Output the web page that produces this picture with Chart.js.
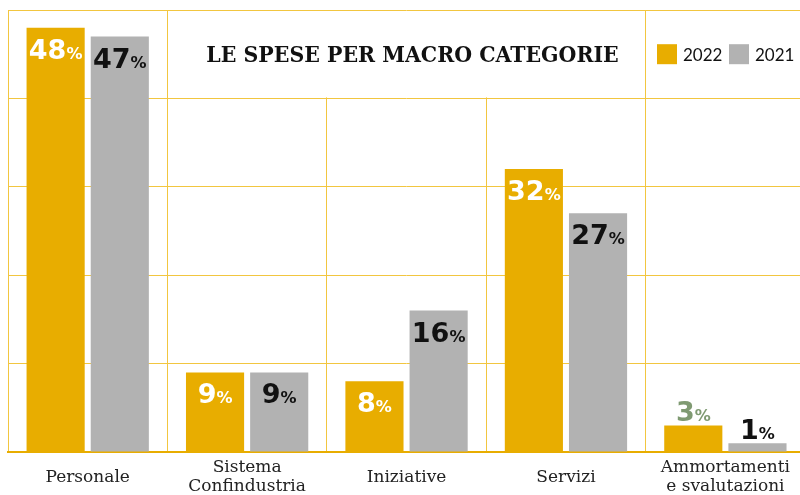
<!DOCTYPE html>
<html>
<head>
<meta charset="utf-8">
<script src="https://cdn.jsdelivr.net/npm/chart.js@4/dist/chart.umd.min.js"></script>
<style>
  html, body { margin: 0; padding: 0; background: #fff; overflow: hidden; }
  #wrap { width: 806px; height: 495px; position: relative; }
</style>
</head>
<body>
<div id="wrap"><canvas id="speseChart" width="806" height="495"></canvas></div>
<script>
const categories = [['Personale'], ['Sistema', 'Confindustria'], ['Iniziative'], ['Servizi'], ['Ammortamenti', 'e svalutazioni']];
const values2022 = [48, 9, 8, 32, 3];
const values2021 = [47, 9, 16, 27, 1];
const yTicks = [0, 10, 20, 30, 40, 50];
const titleText = 'LE SPESE PER MACRO CATEGORIE';

const GOLD = '#E8AD00';
const GREY = '#B2B2B2';
const GRID = '#F2C640';

// title box, legend and % labels drawn on top of the grid
const overlay = {
  id: 'overlay',
  beforeDatasetsDraw(chart) {
    const ctx = chart.ctx, x = chart.scales.x, y = chart.scales.y;
    const half = (x.getPixelForValue(1) - x.getPixelForValue(0)) / 2;
    const top = y.getPixelForValue(50), bot = y.getPixelForValue(40);
    const l = x.getPixelForValue(1) - half, r = x.getPixelForValue(3) + half;
    ctx.save();
    ctx.fillStyle = '#fff';
    ctx.fillRect(l + 1, top + 1, r - l - 2, bot - top - 2);
    ctx.fillStyle = '#111';
    ctx.textAlign = 'center';
    ctx.textBaseline = 'middle';
    let size = 23;
    ctx.font = 'bold ' + size + 'px "DejaVu Serif Condensed", "DejaVu Serif"';
    const w = ctx.measureText(titleText).width;
    size = size * 412 / w;
    ctx.font = 'bold ' + size.toFixed(1) + 'px "DejaVu Serif Condensed", "DejaVu Serif"';
    ctx.fillText(titleText, (l + r) / 2 + 6, (top + bot) / 2 + 2);

    // legend
    const ly = (top + bot) / 2;
    ctx.font = '17px Lato';
    ctx.textAlign = 'left';
    const items = [['2022', GOLD], ['2021', GREY]];
    let lx = 657;
    items.forEach(([t, c]) => {
      ctx.fillStyle = c;
      ctx.fillRect(lx, ly - 10, 20, 20);
      ctx.fillStyle = '#111';
      ctx.fillText(t, lx + 26, ly + 1);
      lx += 72;
    });
    ctx.restore();
  },
  afterDatasetsDraw(chart) {
    const ctx = chart.ctx;
    ctx.save();
    ctx.textBaseline = 'alphabetic';
    chart.data.datasets.forEach((ds, di) => {
      chart.getDatasetMeta(di).data.forEach((bar, i) => {
        const v = ds.data[i];
        const inside = v >= 5;
        const numFont = 'bold 27px "DejaVu Sans"';
        const pctFont = 'bold 16px "DejaVu Sans"';
        ctx.font = numFont;
        const nw = ctx.measureText(String(v)).width;
        ctx.font = pctFont;
        const pw = ctx.measureText('%').width;
        const start = bar.x - (nw + pw) / 2;
        const base = inside ? bar.y + 31 : bar.y - 4;
        let col;
        if (di === 0) col = inside ? '#fff' : '#7F9A72';
        else col = '#111';
        ctx.fillStyle = col;
        ctx.textAlign = 'left';
        ctx.font = numFont;
        ctx.fillText(String(v), start, base);
        ctx.font = pctFont;
        ctx.fillText('%', start + nw, base);
      });
    });
    ctx.restore();
  }
};

new Chart(document.getElementById('speseChart'), {
  type: 'bar',
  data: {
    labels: categories,
    datasets: [
      { label: '2022', data: values2022, backgroundColor: GOLD },
      { label: '2021', data: values2021, backgroundColor: GREY }
    ]
  },
  options: {
    responsive: false,
    animation: false,
    layout: { padding: { left: 8, top: 10, right: 0, bottom: 0 } },
    categoryPercentage: 0.805,
    barPercentage: 0.906,
    plugins: { legend: { display: false }, tooltip: { enabled: false } },
    scales: {
      x: {
        offset: true,
        grid: { offset: true, color: GRID, lineWidth: 1, drawTicks: false },
        border: { color: GOLD, width: 2 },
        ticks: {
          color: '#222',
          font: { family: 'DejaVu Serif', size: 17, lineHeight: 1.12 },
          padding: 16,
          crossAlign: 'center',
          maxRotation: 0,
          autoSkip: false
        },
        afterFit(scale) { scale.height = 43; }
      },
      y: {
        min: 0,
        max: 50,
        afterBuildTicks(scale) { scale.ticks = yTicks.map(v => ({ value: v })); },
        grid: { color: GRID, lineWidth: 1, drawTicks: false },
        border: { display: false },
        ticks: { display: false },
        afterFit(scale) { scale.width = 0; }
      }
    }
  },
  plugins: [overlay]
});
</script>
</body>
</html>
